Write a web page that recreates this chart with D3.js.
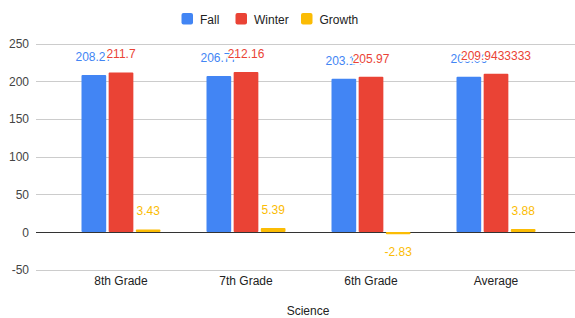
<!DOCTYPE html>
<html>
<head>
<meta charset="utf-8">
<script src="https://cdn.jsdelivr.net/npm/d3@7"></script>
<style>
  body { margin: 0; background: #fff; }
  text { font-family: "Liberation Sans", Arial, sans-serif; }
</style>
</head>
<body>
<svg id="chart" width="575" height="318"></svg>
<script>
const categories = ['8th Grade', '7th Grade', '6th Grade', 'Average'];
const fall = [208.27, 206.77, 203.14, 206.06];
const winter = [211.7, 212.16, 205.97, 209.9433333];
const growth = [3.43, 5.39, -2.83, 3.88];
const seriesNames = ['Fall', 'Winter', 'Growth'];
const seriesColors = ['#4285F4', '#EA4335', '#FBBC04'];
const yTicks = [-50, 0, 50, 100, 150, 200, 250];

const series = [fall, winter, growth];
const svg = d3.select('#chart');

const x = d3.scaleBand().domain(categories).range([58.5, 558.5]).padding(0);
const inner = d3.scaleBand().domain(d3.range(3)).range([-39.5, 39.5]).paddingInner(0.09);
const y = d3.scaleLinear().domain([-50, 250]).range([269.7, 43.5]);

// gridlines
svg.append('g')
  .selectAll('line')
  .data(yTicks)
  .join('line')
  .attr('x1', 36).attr('x2', 575)
  .attr('y1', d => Math.round(y(d)) + 0.5)
  .attr('y2', d => Math.round(y(d)) + 0.5)
  .attr('stroke', d => d === 0 ? '#333' : '#ccc')
  .attr('stroke-width', 1);

// y tick labels
svg.append('g')
  .selectAll('text')
  .data(yTicks)
  .join('text')
  .attr('x', 29)
  .attr('y', d => y(d) + 4.5)
  .attr('text-anchor', 'end')
  .attr('font-size', 12)
  .attr('fill', '#444')
  .text(d => d);

// bars
series.forEach((vals, s) => {
  svg.append('g')
    .selectAll('rect')
    .data(vals)
    .join('rect')
    .attr('x', (d, i) => x(categories[i]) + x.bandwidth() / 2 + inner(s))
    .attr('width', inner.bandwidth())
    .attr('y', d => Math.min(y(d), y(0)))
    .attr('height', d => Math.max(Math.abs(y(d) - y(0)), 1.5))
    .attr('rx', 1)
    .attr('fill', seriesColors[s]);
});

// value labels (winter drawn after fall so it covers it)
series.forEach((vals, s) => {
  svg.append('g')
    .selectAll('text')
    .data(vals)
    .join('text')
    .attr('x', (d, i) => x(categories[i]) + x.bandwidth() / 2 + inner(s) + inner.bandwidth() / 2)
    .attr('y', d => d >= 0 ? y(d) - 14 : y(0) + 24)
    .attr('text-anchor', 'middle')
    .attr('font-size', 12)
    .attr('fill', seriesColors[s])
    .attr('stroke', '#fff')
    .attr('stroke-width', 3)
    .attr('paint-order', 'stroke')
    .text(d => d);
});

// x labels
svg.append('g')
  .selectAll('text')
  .data(categories)
  .join('text')
  .attr('x', d => x(d) + x.bandwidth() / 2)
  .attr('y', 285)
  .attr('text-anchor', 'middle')
  .attr('font-size', 12)
  .attr('fill', '#222')
  .text(d => d);

svg.append('text')
  .attr('x', 308)
  .attr('y', 315)
  .attr('text-anchor', 'middle')
  .attr('font-size', 12)
  .attr('fill', '#222')
  .text('Science');

// legend
const legendX = [181.5, 235.5, 301];
const legend = svg.append('g')
  .selectAll('g')
  .data(seriesNames)
  .join('g')
  .attr('transform', (d, i) => `translate(${legendX[i]},13)`);
legend.append('rect')
  .attr('width', 11.5).attr('height', 11.5).attr('rx', 2)
  .attr('fill', (d, i) => seriesColors[i]);
legend.append('text')
  .attr('x', 18.5).attr('y', 10.5)
  .attr('font-size', 12)
  .attr('fill', '#222')
  .text(d => d);
</script>
</body>
</html>
